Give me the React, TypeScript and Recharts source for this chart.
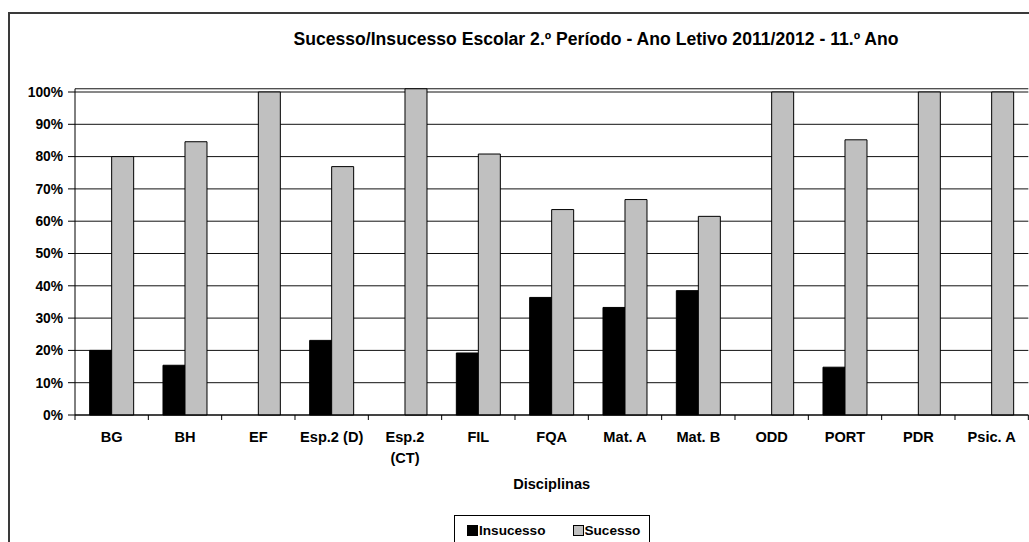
import { Bar, BarChart, CartesianGrid, Legend, XAxis, YAxis } from "recharts";

const disciplinas = ["BG", "BH", "EF", "Esp.2 (D)", "Esp.2 (CT)", "FIL", "FQA", "Mat. A", "Mat. B", "ODD", "PORT", "PDR", "Psic. A"];
const insucesso = [20, 15.4, 0, 23.1, 0, 19.2, 36.4, 33.3, 38.5, 0, 14.8, 0, 0];
const sucesso = [80, 84.6, 100, 76.9, 101, 80.8, 63.6, 66.7, 61.5, 100, 85.2, 100, 100];
const yTicks = [0, 10, 20, 30, 40, 50, 60, 70, 80, 90, 100];

const FONT = "'Liberation Sans', Arial, sans-serif";
const GREY = "#c0c0c0";

const data = disciplinas.map((d, i) => ({ name: d, Insucesso: insucesso[i], Sucesso: sucesso[i] }));

// category label, wrapped like Excel does for the long one, plus boundary tick marks
function CategoryTick(props: any) {
  const { x, y, payload, index } = props;
  const half = payload?.offset ?? 36.67;
  const label: string = payload.value;
  const lines = label.length > 9 ? label.split(" ") : [label];
  return (
    <g>
      <line x1={x - half} x2={x - half} y1={y - 7} y2={y - 2} stroke="#000" />
      {index === disciplinas.length - 1 && <line x1={x + half} x2={x + half} y1={y - 7} y2={y - 2} stroke="#000" />}
      <text x={x} y={y} textAnchor="middle" fontFamily={FONT} fontWeight="bold" fontSize={14.6} fill="#000">
        {lines.map((l, i) => (
          <tspan key={i} x={x} dy={i === 0 ? 19.5 : 21}>
            {l}
          </tspan>
        ))}
      </text>
    </g>
  );
}

function LegendBox() {
  const item = (color: string, text: string) => (
    <span style={{ display: "inline-flex", alignItems: "center" }}>
      <span style={{ display: "inline-block", width: 9, height: 9, background: color, border: "1px solid #000", marginRight: 1 }} />
      {text}
    </span>
  );
  return (
    <div
      style={{
        width: 196,
        height: 40,
        border: "1px solid #000",
        background: "#fff",
        boxSizing: "border-box",
        display: "flex",
        alignItems: "flex-start",
        paddingTop: 7,
        paddingLeft: 12,
        gap: 27,
        fontFamily: FONT,
        fontWeight: "bold",
        fontSize: 13.6,
        color: "#000",
      }}
    >
      {item("#000", "Insucesso")}
      {item(GREY, "Sucesso")}
    </div>
  );
}

export default function App() {
  return (
    <div style={{ position: "fixed", left: 0, top: 0, width: 1029, height: 542, overflow: "hidden", background: "#fff" }}>
      <div style={{ position: "absolute", left: 8, top: 12, width: 1100, height: 600, border: "2px solid #3a3a3a" }} />
      <div
        style={{
          position: "absolute",
          left: 196,
          top: 30,
          width: 800,
          textAlign: "center",
          fontFamily: FONT,
          fontWeight: "bold",
          fontSize: 17.6,
          lineHeight: "18px",
          color: "#000",
        }}
      >
        Sucesso/Insucesso Escolar 2.º Período - Ano Letivo 2011/2012 - 11.º Ano
      </div>
      <div style={{ position: "absolute", left: 0, top: 0 }}>
        <BarChart
          width={1040}
          height={542}
          data={data}
          barCategoryGap="20%"
          barGap={0}
          margin={{ top: 88.77, right: 11.67, bottom: 87, left: 0 }}
        >
          <CartesianGrid vertical={false} stroke="#111" />
          <XAxis
            dataKey="name"
            height={40}
            tickSize={5}
            tickMargin={2}
            tickLine={false}
            axisLine={{ stroke: "#000" }}
            interval={0}
            tick={<CategoryTick />}
            label={{ value: "Disciplinas", position: "bottom", offset: 24, fontFamily: FONT, fontWeight: "bold", fontSize: 14.6, fill: "#000" }}
          />
          <YAxis
            width={75}
            domain={[0, "dataMax"]}
            ticks={yTicks}
            interval={0}
            tickSize={7}
            tickMargin={5}
            tickLine={{ stroke: "#000" }}
            axisLine={{ stroke: "#000" }}
            tickFormatter={(v) => `${v}%`}
            tick={{ fontFamily: FONT, fontWeight: "bold", fontSize: 13.8, fill: "#000" }}
          />
          <Legend
            layout="horizontal"
            verticalAlign="middle"
            align="center"
            wrapperStyle={{ top: 515, left: 454, width: 196, height: 40 }}
            content={<LegendBox />}
          />
          <Bar dataKey="Insucesso" fill="#000" stroke="#000" strokeWidth={1} isAnimationActive={false} />
          <Bar dataKey="Sucesso" fill={GREY} stroke="#000" strokeWidth={1} isAnimationActive={false} />
        </BarChart>
      </div>
    </div>
  );
}
